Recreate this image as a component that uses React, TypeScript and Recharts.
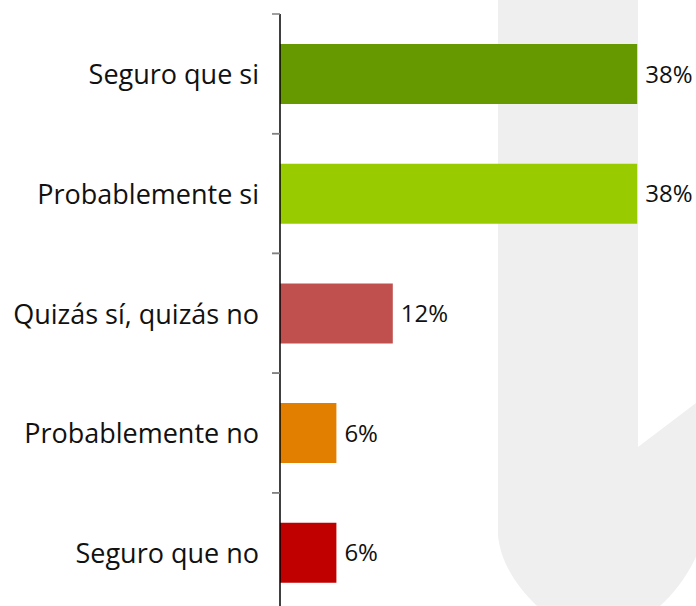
import React from "react";
import { BarChart, Bar, XAxis, YAxis, LabelList, Cell } from "recharts";

const categories = ["Seguro que si", "Probablemente si", "Quizás sí, quizás no", "Probablemente no", "Seguro que no"];
const values = [38, 38, 12, 6, 6];
const colors = ["#669900", "#99cc00", "#c0504d", "#e37f00", "#c00000"];

const data = categories.map((name, i) => ({ name, value: values[i] }));

const CHART_W = 696;
const CHART_H = 620;
const MARGIN = { top: 14, right: 40, bottom: 7.5, left: 0 };
const BAND = (CHART_H - MARGIN.top - MARGIN.bottom) / categories.length;
const FONT = "'Open Sans', sans-serif";

const CategoryTick = (props: any) => {
  const { x, y, payload } = props;
  const ax = x + 8;
  return (
    <g>
      <line x1={ax - 8} x2={ax} y1={y - BAND / 2} y2={y - BAND / 2} stroke="#808080" strokeWidth={1.5} />
      <line x1={ax - 8} x2={ax} y1={y + BAND / 2} y2={y + BAND / 2} stroke="#808080" strokeWidth={1.5} />
      <text x={ax - 21} y={y} textAnchor="end" dominantBaseline="central" fontFamily={FONT} fontSize={27} fill="#111">
        {payload.value}
      </text>
    </g>
  );
};

export default function App() {
  return (
    <div style={{ position: "absolute", left: 0, top: 0, width: 696, height: 606, overflow: "hidden", background: "#fff" }}>
      <svg width={696} height={606} style={{ position: "absolute", left: 0, top: 0 }}>
        <path
          d="M 498 0 L 638 0 L 638 447 L 696 403 L 696 557 C 685 580 672 595 660 606 L 537 606 C 515 585 500 560 498 535 Z"
          fill="#efefef"
        />
      </svg>
      <div style={{ position: "absolute", left: 0, top: 0 }}>
        <BarChart width={CHART_W} height={CHART_H} data={data} layout="vertical" margin={MARGIN}>
          <XAxis type="number" domain={[0, 40]} hide />
          <YAxis
            type="category"
            dataKey="name"
            width={280}
            axisLine={{ stroke: "#000", strokeWidth: 1.5 }}
            tickLine={false}
            tick={<CategoryTick />}
            interval={0}
          />
          <Bar dataKey="value" barSize={60} isAnimationActive={false}>
            {data.map((d, i) => (
              <Cell key={d.name} fill={colors[i]} />
            ))}
            <LabelList
              dataKey="value"
              position="right"
              offset={8}
              formatter={(v: any) => `${v}%`}
              style={{ fontFamily: FONT, fontSize: 24, fill: "#111" }}
            />
          </Bar>
        </BarChart>
      </div>
    </div>
  );
}
